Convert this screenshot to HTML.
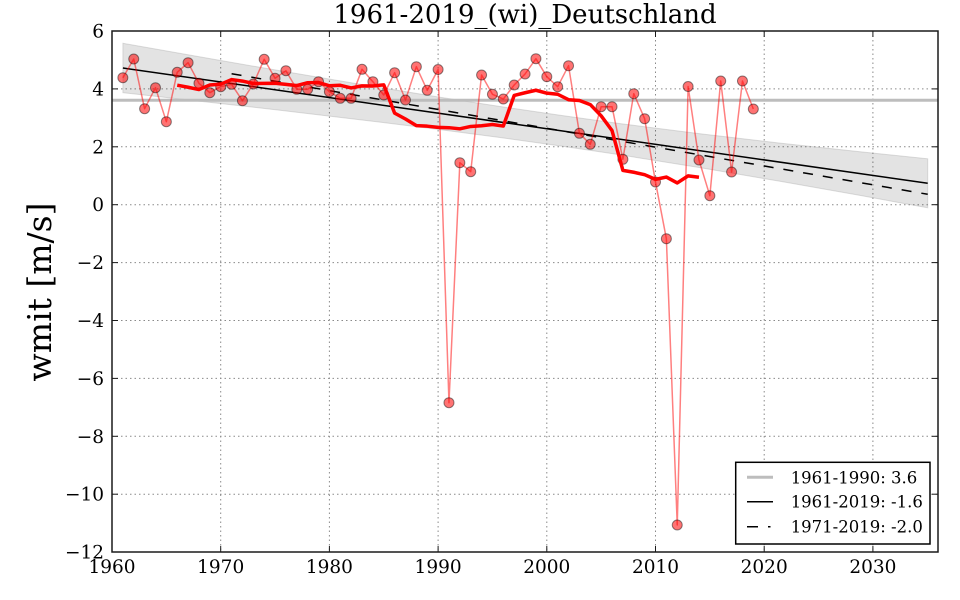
<!DOCTYPE html>
<html>
<head>
<meta charset="utf-8">
<style>
html,body{margin:0;padding:0;background:#fff;}
svg{display:block;}
text{font-family:"DejaVu Serif","Liberation Serif",serif;fill:#000;}
</style>
</head>
<body>
<svg width="960" height="600" viewBox="0 0 960 600" xmlns="http://www.w3.org/2000/svg">
<rect x="0" y="0" width="960" height="600" fill="#fff"/>

<!-- grid -->
<g stroke="#8a8a8a" stroke-width="1" stroke-dasharray="1.5 3" fill="none">
  <line x1="220.7" y1="31" x2="220.7" y2="552"/>
  <line x1="329.4" y1="31" x2="329.4" y2="552"/>
  <line x1="438.1" y1="31" x2="438.1" y2="552"/>
  <line x1="546.8" y1="31" x2="546.8" y2="552"/>
  <line x1="655.5" y1="31" x2="655.5" y2="552"/>
  <line x1="764.2" y1="31" x2="764.2" y2="552"/>
  <line x1="872.9" y1="31" x2="872.9" y2="552"/>
  <line x1="112" y1="88.9" x2="938" y2="88.9"/>
  <line x1="112" y1="146.8" x2="938" y2="146.8"/>
  <line x1="112" y1="204.7" x2="938" y2="204.7"/>
  <line x1="112" y1="262.6" x2="938" y2="262.6"/>
  <line x1="112" y1="320.5" x2="938" y2="320.5"/>
  <line x1="112" y1="378.4" x2="938" y2="378.4"/>
  <line x1="112" y1="436.3" x2="938" y2="436.3"/>
  <line x1="112" y1="494.2" x2="938" y2="494.2"/>
</g>

<!-- confidence band -->
<polygon fill="#000" fill-opacity="0.11" stroke="#a0a0a0" stroke-opacity="0.35" stroke-width="1"
 points="122.9,43.3 200,56.9 280,70.8 360,84.3 440,97.2 500,106.5 560,115.3 620,123.6 700,133.8 780,143.1 860,151.8 927.7,158.8 927.7,207.8 860,195.4 780,181.3 700,167.6 620,154.8 560,145.9 500,137.5 440,129.6 360,119.7 280,110.2 200,101.2 122.9,92.7"/>

<!-- 1961-1990 reference -->
<line x1="112" y1="100.2" x2="938" y2="100.2" stroke="#bdbdbd" stroke-width="3"/>

<!-- trend lines -->
<line x1="122.9" y1="68" x2="927.7" y2="183.3" stroke="#000" stroke-width="1.5"/>
<line x1="231.6" y1="73.7" x2="927.7" y2="194.3" stroke="#000" stroke-width="1.5" stroke-dasharray="10 10"/>

<!-- data line -->
<polyline fill="none" stroke="#ff0000" stroke-opacity="0.5" stroke-width="1.5" stroke-linejoin="round"
 points="122.87,77.7 133.74,59 144.61,108.7 155.48,87.7 166.35,121.7 177.22,72.3 188.09,62.7 198.96,83.3 209.83,92.7 220.7,86.7 231.57,84.3 242.44,100.7 253.31,84 264.18,59.3 275.05,78.3 285.92,70.7 296.79,89.3 307.66,89.3 318.53,81.7 329.4,91.7 340.27,98.3 351.14,98.3 362.01,69.3 372.88,81.7 383.75,95 394.62,72.7 405.49,100 416.36,66.7 427.23,90.3 438.1,69.5 448.97,402.7 459.84,162.7 470.71,171.7 481.58,75 492.45,94.3 503.32,99 514.19,85 525.06,74 535.93,58.7 546.8,76.7 557.67,86.7 568.54,65.7 579.41,133.3 590.28,144.3 601.15,106.7 612.02,106.7 622.89,159.3 633.76,93.7 644.63,118.7 655.5,182 666.37,238.7 677.24,525 688.11,86.5 698.98,160 709.85,195.7 720.72,81 731.59,172 742.46,81 753.33,109"/>

<!-- markers -->
<g fill="#ff0000" fill-opacity="0.55" stroke="#000" stroke-opacity="0.45" stroke-width="1">
<circle cx="122.87" cy="77.7" r="5"/><circle cx="133.74" cy="59" r="5"/><circle cx="144.61" cy="108.7" r="5"/><circle cx="155.48" cy="87.7" r="5"/><circle cx="166.35" cy="121.7" r="5"/><circle cx="177.22" cy="72.3" r="5"/><circle cx="188.09" cy="62.7" r="5"/><circle cx="198.96" cy="83.3" r="5"/><circle cx="209.83" cy="92.7" r="5"/><circle cx="220.7" cy="86.7" r="5"/>
<circle cx="231.57" cy="84.3" r="5"/><circle cx="242.44" cy="100.7" r="5"/><circle cx="253.31" cy="84" r="5"/><circle cx="264.18" cy="59.3" r="5"/><circle cx="275.05" cy="78.3" r="5"/><circle cx="285.92" cy="70.7" r="5"/><circle cx="296.79" cy="89.3" r="5"/><circle cx="307.66" cy="89.3" r="5"/><circle cx="318.53" cy="81.7" r="5"/><circle cx="329.4" cy="91.7" r="5"/>
<circle cx="340.27" cy="98.3" r="5"/><circle cx="351.14" cy="98.3" r="5"/><circle cx="362.01" cy="69.3" r="5"/><circle cx="372.88" cy="81.7" r="5"/><circle cx="383.75" cy="95" r="5"/><circle cx="394.62" cy="72.7" r="5"/><circle cx="405.49" cy="100" r="5"/><circle cx="416.36" cy="66.7" r="5"/><circle cx="427.23" cy="90.3" r="5"/><circle cx="438.1" cy="69.5" r="5"/>
<circle cx="448.97" cy="402.7" r="5"/><circle cx="459.84" cy="162.7" r="5"/><circle cx="470.71" cy="171.7" r="5"/><circle cx="481.58" cy="75" r="5"/><circle cx="492.45" cy="94.3" r="5"/><circle cx="503.32" cy="99" r="5"/><circle cx="514.19" cy="85" r="5"/><circle cx="525.06" cy="74" r="5"/><circle cx="535.93" cy="58.7" r="5"/><circle cx="546.8" cy="76.7" r="5"/>
<circle cx="557.67" cy="86.7" r="5"/><circle cx="568.54" cy="65.7" r="5"/><circle cx="579.41" cy="133.3" r="5"/><circle cx="590.28" cy="144.3" r="5"/><circle cx="601.15" cy="106.7" r="5"/><circle cx="612.02" cy="106.7" r="5"/><circle cx="622.89" cy="159.3" r="5"/><circle cx="633.76" cy="93.7" r="5"/><circle cx="644.63" cy="118.7" r="5"/><circle cx="655.5" cy="182" r="5"/>
<circle cx="666.37" cy="238.7" r="5"/><circle cx="677.24" cy="525" r="5"/><circle cx="688.11" cy="86.5" r="5"/><circle cx="698.98" cy="160" r="5"/><circle cx="709.85" cy="195.7" r="5"/><circle cx="720.72" cy="81" r="5"/><circle cx="731.59" cy="172" r="5"/><circle cx="742.46" cy="81" r="5"/><circle cx="753.33" cy="109" r="5"/>
</g>

<!-- running mean -->
<polyline fill="none" stroke="#ff0000" stroke-width="3.5" stroke-linejoin="round"
 points="177.22,85.16 188.09,87.25 198.96,89.53 209.83,85.04 220.7,84.18 231.57,79.55 242.44,81.09 253.31,83.51 264.18,83.36 275.05,83.27 285.92,84.33 296.79,85.6 307.66,82.75 318.53,82.54 329.4,85.78 340.27,85.27 351.14,87.94 362.01,85.88 372.88,85.97 383.75,84.86 394.62,113.14 405.49,118.99 416.36,125.66 427.23,126.18 438.1,127.33 448.97,127.69 459.84,128.81 470.71,126.45 481.58,125.72 492.45,124.48 503.32,126.05 514.19,95.41 525.06,92.74 535.93,90.25 546.8,93.13 557.67,94.25 568.54,99.74 579.41,100.53 590.28,104.59 601.15,115.8 612.02,130.53 622.89,170.37 633.76,172.26 644.63,174.69 655.5,179.36 666.37,177.03 677.24,182.96 688.11,175.85 698.98,177.24"/>

<!-- frame -->
<rect x="112" y="31" width="826" height="521" fill="none" stroke="#1a1a1a" stroke-width="1.5"/>

<!-- ticks -->
<g stroke="#1a1a1a" stroke-width="1">
  <line x1="220.7" y1="552" x2="220.7" y2="546"/><line x1="329.4" y1="552" x2="329.4" y2="546"/><line x1="438.1" y1="552" x2="438.1" y2="546"/><line x1="546.8" y1="552" x2="546.8" y2="546"/><line x1="655.5" y1="552" x2="655.5" y2="546"/><line x1="764.2" y1="552" x2="764.2" y2="546"/><line x1="872.9" y1="552" x2="872.9" y2="546"/>
  <line x1="220.7" y1="31" x2="220.7" y2="37"/><line x1="329.4" y1="31" x2="329.4" y2="37"/><line x1="438.1" y1="31" x2="438.1" y2="37"/><line x1="546.8" y1="31" x2="546.8" y2="37"/><line x1="655.5" y1="31" x2="655.5" y2="37"/><line x1="764.2" y1="31" x2="764.2" y2="37"/><line x1="872.9" y1="31" x2="872.9" y2="37"/>
  <line x1="112" y1="88.9" x2="118" y2="88.9"/><line x1="112" y1="146.8" x2="118" y2="146.8"/><line x1="112" y1="204.7" x2="118" y2="204.7"/><line x1="112" y1="262.6" x2="118" y2="262.6"/><line x1="112" y1="320.5" x2="118" y2="320.5"/><line x1="112" y1="378.4" x2="118" y2="378.4"/><line x1="112" y1="436.3" x2="118" y2="436.3"/><line x1="112" y1="494.2" x2="118" y2="494.2"/>
  <line x1="938" y1="88.9" x2="932" y2="88.9"/><line x1="938" y1="146.8" x2="932" y2="146.8"/><line x1="938" y1="204.7" x2="932" y2="204.7"/><line x1="938" y1="262.6" x2="932" y2="262.6"/><line x1="938" y1="320.5" x2="932" y2="320.5"/><line x1="938" y1="378.4" x2="932" y2="378.4"/><line x1="938" y1="436.3" x2="932" y2="436.3"/><line x1="938" y1="494.2" x2="932" y2="494.2"/>
</g>

<!-- x tick labels -->
<g font-size="18.5" text-anchor="middle">
  <text x="112" y="573">1960</text>
  <text x="220.7" y="573">1970</text>
  <text x="329.4" y="573">1980</text>
  <text x="438.1" y="573">1990</text>
  <text x="546.8" y="573">2000</text>
  <text x="655.5" y="573">2010</text>
  <text x="764.2" y="573">2020</text>
  <text x="872.9" y="573">2030</text>
</g>

<!-- y tick labels -->
<g font-size="18.5" text-anchor="end">
  <text x="104" y="37.5">6</text>
  <text x="104" y="95.4">4</text>
  <text x="104" y="153.3">2</text>
  <text x="104" y="211.2">0</text>
  <text x="104" y="269.1">−2</text>
  <text x="104" y="327">−4</text>
  <text x="104" y="384.9">−6</text>
  <text x="104" y="442.8">−8</text>
  <text x="104" y="500.7">−10</text>
  <text x="104" y="558.5">−12</text>
</g>

<!-- title -->
<text x="525" y="23" font-size="26" text-anchor="middle">1961-2019_(wi)_Deutschland</text>

<!-- y label -->
<text transform="translate(51,292) rotate(-90)" font-size="33" text-anchor="middle">wmit [m/s]</text>

<!-- legend -->
<rect x="735.7" y="462.3" width="194.3" height="81.7" fill="#fff" stroke="#000" stroke-width="1.5"/>
<line x1="747" y1="477.3" x2="773" y2="477.3" stroke="#bdbdbd" stroke-width="3"/>
<line x1="747" y1="501.7" x2="773" y2="501.7" stroke="#000" stroke-width="1.5"/>
<line x1="747" y1="526.7" x2="770.5" y2="526.7" stroke="#000" stroke-width="1.5" stroke-dasharray="11 10"/>
<g font-size="16.5">
  <text x="790.7" y="483.3">1961-1990: 3.6</text>
  <text x="790.7" y="507.7">1961-2019: -1.6</text>
  <text x="790.7" y="532.7">1971-2019: -2.0</text>
</g>
</svg>
</body>
</html>
